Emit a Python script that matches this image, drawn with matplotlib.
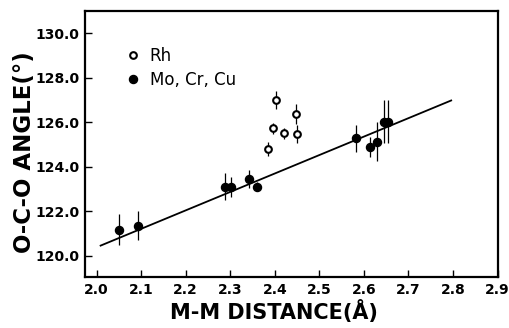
import matplotlib
matplotlib.use("Agg")
import matplotlib.pyplot as plt
from matplotlib.lines import Line2D

# Rh (open circles)
rh_x = [2.384, 2.395, 2.403, 2.421, 2.447, 2.449]
rh_y = [124.80, 125.73, 127.00, 125.50, 126.37, 125.48]
rh_err = [0.30, 0.25, 0.40, 0.25, 0.45, 0.40]

# Mo, Cr, Cu (filled circles)
mo_x = [2.050, 2.092, 2.288, 2.302, 2.342, 2.360, 2.583, 2.614, 2.630, 2.646, 2.655]
mo_y = [121.17, 121.35, 123.11, 123.11, 123.44, 123.11, 125.28, 124.90, 125.13, 126.02, 126.02]
mo_err = [0.70, 0.65, 0.60, 0.45, 0.40, 0.20, 0.60, 0.45, 0.87, 0.97, 0.97]

# fitted line
fit_x = [2.009, 2.796]
fit_y = [120.46, 126.98]

x_ticks = [2.0, 2.1, 2.2, 2.3, 2.4, 2.5, 2.6, 2.7, 2.8, 2.9]
y_ticks = [120.0, 122.0, 124.0, 126.0, 128.0, 130.0]

fig = plt.figure(figsize=(5.10, 3.28), dpi=100)
ax = fig.add_axes([0.1667, 0.1555, 0.8088, 0.811])

ax.plot(fit_x, fit_y, color='black', lw=1.3, zorder=1)

ax.errorbar(mo_x, mo_y, yerr=mo_err, fmt='o', color='black', ms=5.8,
            elinewidth=0.9, capsize=0, zorder=3)
ax.errorbar(rh_x, rh_y, yerr=rh_err, fmt='o', mfc='white', mec='black',
            ecolor='black', ms=4.8, mew=1.5, elinewidth=0.9, capsize=0,
            zorder=3)

ax.set_xlim(1.974, 2.9)
ax.set_ylim(119.05, 131.0)
ax.set_xticks(x_ticks)
ax.set_xticklabels([f"{v:.1f}" for v in x_ticks])
ax.set_yticks(y_ticks)
ax.set_yticklabels([f"{v:.1f}" for v in y_ticks])
ax.tick_params(direction='in', length=5, width=1, labelsize=10, pad=4)
for lbl in ax.get_xticklabels() + ax.get_yticklabels():
    lbl.set_fontweight('bold')
for s in ax.spines.values():
    s.set_linewidth(1.6)

ax.set_xlabel('M-M DISTANCE(Å)', fontsize=15, fontweight='bold')
ax.xaxis.set_label_coords(0.458, -0.085)
ax.set_ylabel('O-C-O ANGLE(°)', fontsize=16.5, fontweight='bold')
ax.yaxis.set_label_coords(-0.12, 0.47)

handles = [
    Line2D([], [], ls='none', marker='o', mfc='white', mec='black', ms=4.8, mew=1.5),
    Line2D([], [], ls='none', marker='o', color='black', ms=5.8),
]
ax.legend(handles, ['Rh', 'Mo, Cr, Cu'], loc='upper left',
          bbox_to_anchor=(0.06, 0.92), frameon=False, fontsize=12,
          handletextpad=0.5, labelspacing=0.35, handlelength=1.0)

fig.savefig('out.png', dpi=100)
